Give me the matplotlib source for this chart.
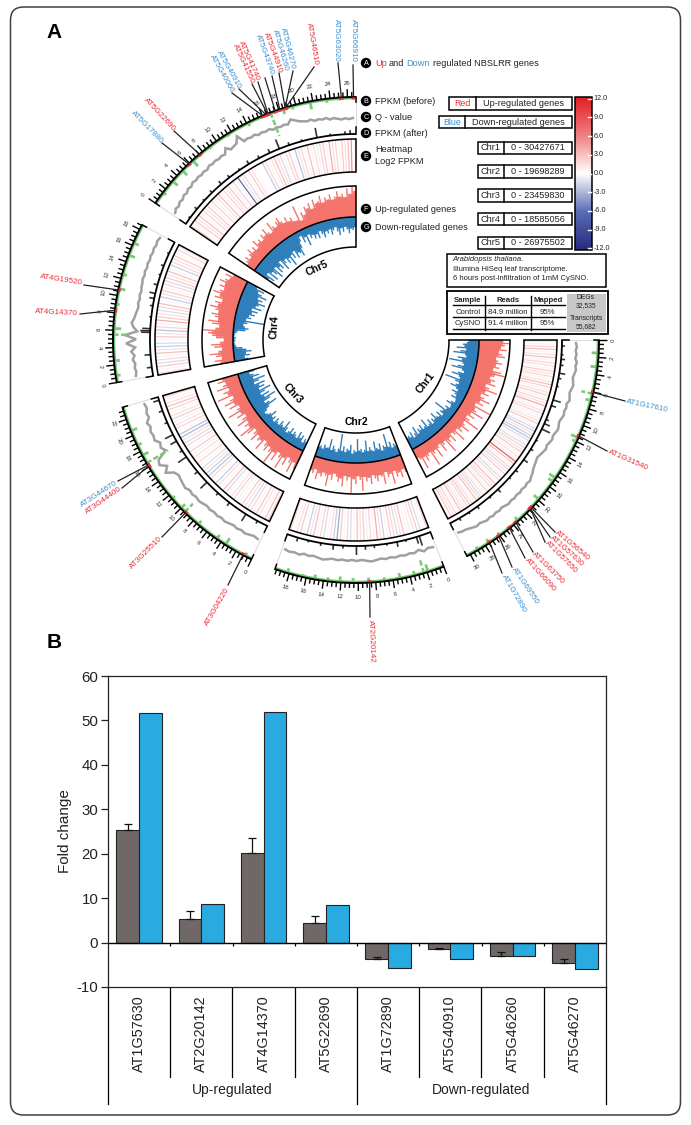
import numpy as np
import matplotlib
matplotlib.use("Agg")
import matplotlib.pyplot as plt
from matplotlib.collections import LineCollection, PolyCollection
from matplotlib.colors import LinearSegmentedColormap
from matplotlib.patches import FancyBboxPatch, Rectangle, Circle

plt.rcParams['font.family'] = ['Liberation Sans', 'DejaVu Sans']
plt.rcParams['axes.unicode_minus'] = False

# ---- panel A data ----
chr_names = ['Chr1', 'Chr2', 'Chr3', 'Chr4', 'Chr5']
chr_mb = [30.43, 19.70, 23.46, 18.59, 26.98]

# up / down regulated histograms, clockwise along each chromosome
up_chr1 = [24,30,26,22,28,20,24,27,18,21,25,19,23,17,26,30,20,16,22,18,24,14,19,28,16,21,13,18,25,15,20,12,30,14,17,26,13,19,11,16,28,12,15,22,13,17,11,24,14,10,19,12,16,26,11,14,20,10,13,22,12,15,27,11,14,18,12,24,13,10]
up_chr2 = [18,14,22,16,20,13,26,15,18,12,24,16,14,20,17,13,22,15,19,14,28,17,13,21,16,30,14,18,13,24,16,20,15,12,19,14,26,16,13,18,15,22,12,17,14]
up_chr3 = [20,14,26,17,12,22,15,28,18,13,24,16,30,19,14,21,17,12,25,15,18,13,22,16,11,20,27,14,18,12,23,16,10,19,13,26,15,11,21,14,24,17,12,28,16,20,13,25,18,14,22,16]
up_chr4 = [14,20,12,18,24,15,11,19,22,13,9,17,21,25,31,18,14,22,26,16,20,24,17,21,27,19,23,16,25,20,28,22,18,24,19,26,21,17,23,15]
up_chr5 = [9,12,15,10,14,18,12,16,11,20,14,17,13,19,15,22,16,13,24,18,15,20,23,17,14,19,13,16,11,10,25,8,16,12,20,17,22,15,24,19,21,26,18,23,20,25,19,22,27,21,24,20,29,23,31,26]
down_chr1 = [10,12,16,14,22,12,18,25,13,11,20,15,28,14,12,18,24,13,10,16,22,14,12,27,16,11,14,19,12,9,15,11,8,13,7,6,10,14,8,7,12,9,22,11,13,8,15,10,12,18,11,14,9,16,12,10,20,13,11,17,12,15,10,19,13,9,16,11,14,12]
down_chr2 = [10,13,9,16,11,25,12,14,9,17,11,13,20,10,12,15,11,22,13,10,14,12,24,11,13,9,18,12,14,10,16,11,28,13,9,12,15,10,21,12,11,14,9,12,10]
down_chr3 = [9,12,7,14,10,16,8,11,13,9,15,10,7,12,18,9,11,14,8,10,13,7,12,9,16,11,8,6,10,14,24,17,12,20,27,15,22,13,19,26,14,21,16,23,12,18,25,13,20,15,11,17]
down_chr4 = [14,10,16,12,18,13,9,3,2,1,2,3,1,2,4,12,15,11,9,13,30,11,16,13,19,15,21,14,24,17,20,26,18,22,16,25,19,14,20,11]
down_chr5 = [16,22,12,24,15,20,26,14,23,17,21,13,25,19,15,22,17,27,16,21,14,23,18,20,24,16,10,5,13,8,18,7,12,9,14,10,15,8,12,16,10,13,9,15,11,8,13,17,10,14,9,12,16,11,13,10]

# log2 FPKM heatmap stripes
heat_chr1 = [1.5,.5,2,3,.5,1.5,3,.5,2,1.5,.5,2.5,1.5,2,.5,1.5,3,2,.5,1.5,2.5,.5,2,1.5,4,.5,1.5,2,.5,-.5,1.5,2.5,.5,-1.5,-2,1.5,-2,-2.5,-1.5,.5,2,-1.5,1.5,2.5,.5,1.5,-.5,8,3,.5,2,-1.5,1.5,2.5,.5,-1.5,2,.5,3,1.5,2,-.5,2.5,.5,1.5,-1.5,2,3,.5,1.5,2.5,2,-.5,1.5,3,.5,2,1.5,2.5,.5]
heat_chr2 = [2,.5,-1.5,2.5,1.5,-.5,.5,3,1.5,-1.5,2,2.5,.5,-2,1.5,4,.5,2,-.5,2.5,1.5,3,.5,-1.5,2,.5,2.5,-3.5,-2,1.5,.5,-1.5,2,.5,3,1.5,-2,.5,2.5,1.5,.5,2]
heat_chr3 = [2,3,.5,1.5,2.5,.5,2,-1.5,1.5,2.5,.5,-.5,2,1.5,.5,-1.5,3,.5,1.5,-2,.5,2,-2.5,-2,1.5,-1.5,.5,2,.5,1.5,-.5,2.5,.5,2,-1.5,1.5,-3,-2.5,.5,2,1.5,-.5,2.5,1.5,.5,2,3,1.5,.5,2]
heat_chr4 = [1.5,.5,2.5,-1.5,2,.5,3,1.5,-2,-1.5,.5,2.5,1.5,-2.5,2,.5,4,2.5,1.5,-1.5,2,3,.5,-2,1.5,2.5,.5,2,-1.5,2.5,1.5,3,.5,-2,2,1.5,2.5,.5,2,1.5]
heat_chr5 = [2,.5,2.5,1.5,3,.5,2,1.5,2.5,.5,2,-.5,1.5,3,.5,2,1.5,2.5,-.5,2,.5,-6,1.5,-1.5,.5,2.5,1.5,.5,0,0,-2,2,.5,1.5,3,1.5,-1.5,.5,2,2.5,.5,-2.5,1.5,2,.5,3,.5,1.5,-.5,2,2.5,.5,4,1.5,2,.5,2.5,1.5,3,5,.5]

# Q-value trace, height above the track floor
qval_chr1 = [14,15,14,15,14,16,15,16,15,14,15,16,15,14,15,16,14,15,14,15,14,13,14,15,14,13,14,13,12,13,12,11,10,11,12,13,15,16,18,17,18,17,18,17,18,17,18,17,16,17,16,17,16,17,16,15,16,15,14,13,13,12]
qval_chr2 = [15,14,16,13,15,14,15,14,15,14,15,14,15,16,15,14,15,14,15,14,15,14,15,16,15,14,15,14,16,15,16,15]
qval_chr3 = [16,15,16,17,16,17,16,17,18,17,18,17,18,17,18,19,18,19,18,20,19,18,17,19,26,21,27,25,14,17,15,19,18,19,17,19,15,16,14,15]
qval_chr4 = [17,16,17,16,18,16,19,15,24,14,25,13,17,19,17,16,15,14,15,14,15,14,15,15,16,15,16,15,16,15,16,15,16,15,16,15]
qval_chr5 = [15,17,16,18,17,19,18,20,19,21,20,21,20,21,20,22,21,22,21,22,21,26,22,23,24,30,22,23,22,23,21,22,21,22,20,21,20,21,20,24,22,20,19,18,19,17,18,17,18,16,17,16,15,16,15,16]

# FPKM (after) spikes: Mb, height
after_mb = [[0.8,2.0,2.6,3.4,4.5,5.2,6.3,8.2,9.0,11.0,11.6,12.4,14.1,15.5,17.2,19.0,20.3,22.5,24.0,26.1,27.5,29.0],
            [1.6,2.0,3.5,4.7,6.1,7.8,9.0,10.2,12.0,13.3,15.0,16.7,18.2],
            [1.5,3.3,6.0,8.0,10.1,12.0,14.5,15.5,17.0,18.0,19.8,21.5,23.0],
            [1.2,2.9,5.9,6.1,6.4,8.0,9.5,10.5,11.2,12.4,13.8,15.1,16.9],
            [1.0,2.5,4.0,5.5,7.2,8.6,10.3,11.8,13.4,15.0,16.4,17.8,19.6,21.7,23.5,25.5,26.2]]
after_h = [[3,2,4,3,6,3,2,8,5,3,6,9,2,3,5,3,2,4,2,3,2,3],
           [10,7,2,5,2,3,4,9,3,5,3,2,4],
           [3,8,4,3,9,4,10,3,7,9,3,4,6],
           [5,6,9,10,8,2,3,5,6,4,2,3,2],
           [2,3,2,3,4,3,2,4,3,4,10,3,2,10,2,3,4]]

# FPKM (before) spikes: Mb, height
before_mb = [[1.5,3.1,6.2,7.0,11.5,12.0,16.8,17.3,19.9,23.3,26.0,27.5,29.0],
             [1.9,2.4,3.5,5.2,7.0,8.8,10.6,12.1,13.5,15.0,16.4,18.2],
             [0.8,3.4,4.6,7.3,9.4,10.0,11.5,16.5,17.5,18.8,20.6],
             [0.8,2.5,5.5,6.2,9.0,10.8,12.5,14.8,16.3],
             [1.5,3.2,4.85,6.5,9.0,11.5,14.2,17.0,18.5,19.6,21.7,23.6,25.0]]
before_h = [[7,7,12,6,8,5,8,6,7,5,4,5,4],
            [8,15,5,6,4,5,5,6,4,5,3,5],
            [4,8,5,5,12,6,4,25,7,5,7],
            [5,6,15,8,4,7,5,7,6],
            [4,7,7,8,3,3,4,25,6,4,8,4,3]]

# NBS-LRR genes
gene_names = ['AT5G66910','AT5G63020','AT5G46510','AT5G46270','AT5G46260','AT5G44910','AT5G43740',
              'AT5G41740','AT5G41550','AT5G40910','AT5G40060','AT5G22690','AT5G17880',
              'AT4G19520','AT4G14370',
              'AT1G17610','AT1G31540','AT1G56540','AT1G57630','AT1G57650','AT1G63750','AT1G66090','AT1G69550','AT1G72890',
              'AT2G20142','AT3G04220','AT3G25510','AT3G44670','AT3G44400']
gene_chr = [4]*13 + [3]*2 + [0]*9 + [1] + [2]*4
gene_pos = [26.7,25.3,18.86,18.77,18.76,18.12,17.57,16.69,16.62,16.4,16.03,7.55,5.9,
            10.64,8.28,6.05,11.3,21.18,21.34,21.35,23.64,24.6,26.15,27.42,8.7,1.1,9.26,16.2,16.07]
gene_up = [0,0,1,0,0,1,0,1,1,0,0,1,0, 1,1, 0,1,1,1,1,1,1,0,0, 1,1,1,0,1]

# ---- panel B data ----
qpcr_genes = ['AT1G57630','AT2G20142','AT4G14370','AT5G22690','AT1G72890','AT5G40910','AT5G46260','AT5G46270']
qpcr = [25.3, 5.4, 20.2, 4.3, -3.8, -1.4, -3.0, -4.7]
qpcr_err = [1.4, 1.6, 3.3, 1.7, 0.6, 0.2, 0.8, 0.9]
transcriptome = [51.7, 8.7, 52.0, 8.4, -5.7, -3.8, -3.0, -6.0]

# layout of the gene labels, pixels: leader end x, y, text x, y, rotation, ha
gene_layout = [(353,65,353,62,-90,'right'),(338,63,336,62,-90,'right'),(314,67,316,65,-80,'right'),(293,71,293,69,-76,'right'),
               (279,73,286,71,-74,'right'),(272,76,280,73,-70,'right'),(265,78,272,75,-70,'right'),(258,82,258,80,-66,'right'),
               (252,84,252,83,-65,'right'),(239,89,239,88,-60.5,'right'),(232,93,232,92,-60.5,'right'),(174,131,174,130,-47,'right'),
               (162,143,162,142,-45.5,'right'),(84,285,83,283,-9,'right'),(80,314,78,314,-3,'right'),
               (625,401,626,402,-12,'left'),(607,451,609,452,-23.6,'left'),(555,532,556,532,-40,'left'),(550,537,551,537,-42,'left'),
               (545,542,546,542,-45,'left'),(533,552,533,553,-45,'left'),(525,558,526,559,-48,'left'),(512,567,513,568,-56,'left'),
               (502,573,503,575,-60,'left'),(370,617,370,620,-88,'left'),(228,585,228,588,60,'right'),(162,537,161,538,45,'right'),
               (118,481,117,482,33,'right'),(122,488,121,488,35,'right')]

cx, cy = 356, 340
gap = 6.0
deg_per_mb = (270 - gap * 4) / sum(chr_mb)
chr_start = []
a = 0.0
for mb in chr_mb:
    chr_start.append(a)
    a += mb * deg_per_mb + gap

R_TICK, R_FLOOR = 243, 206
R_HEAT_OUT, R_HEAT_IN = 201, 168
R_UP, R_MID, R_DOWN = 154, 123, 93


def xy(r, deg):
    t = np.radians(deg)
    return cx + r * np.cos(t), cy + r * np.sin(t)


def mb_angle(c, mb):
    return chr_start[c] + mb * deg_per_mb


def arc(ax, r, d0, d1, **kw):
    t = np.linspace(d0, d1, 120)
    x, y = xy(r, t)
    ax.plot(x, y, solid_capstyle='butt', **kw)


def hist_track(ax, values, c, r0, sign, color):
    # solid body under the neighbouring bins, thin spikes for the peaks
    span = chr_mb[c] * deg_per_mb
    edges = chr_start[c] + np.linspace(0, span, len(values) + 1)
    n = len(values)
    quads = []
    spikes = []
    for i, v in enumerate(values):
        body = min(v, values[max(i - 1, 0)], values[min(i + 1, n - 1)])
        r1 = r0 + sign * body
        quads.append([xy(r0, edges[i]), xy(r1, edges[i]), xy(r1, edges[i + 1]), xy(r0, edges[i + 1])])
        mid = 0.5 * (edges[i] + edges[i + 1])
        spikes.append([xy(r0, mid), xy(r0 + sign * v, mid)])
    ax.add_collection(PolyCollection(quads, facecolors=color, edgecolors=color, linewidths=0.4, zorder=2))
    ax.add_collection(LineCollection(spikes, colors=color, linewidths=1.0, zorder=2))


fig = plt.figure(figsize=(6.91, 11.25), dpi=100)
ax = fig.add_axes([0, 0, 1, 1])
ax.set_xlim(0, 691)
ax.set_ylim(1125, 0)
ax.axis('off')

ax.add_patch(FancyBboxPatch((10.5, 7), 670, 1108, boxstyle='round,pad=0,rounding_size=13',
                            fc='none', ec='#404040', lw=1.1))
ax.text(46.5, 32.5, 'A', fontsize=15, fontweight='bold', va='center')
ax.text(46.5, 643, 'B', fontsize=15, fontweight='bold', va='center')

heat_cmap = LinearSegmentedColormap.from_list('heat', [(0, '#262B7F'), (0.25, '#5A6DB5'), (0.5, '#FFFFFF'),
                                                        (0.75, '#F08080'), (1, '#E31E24')])
up_lists = [up_chr1, up_chr2, up_chr3, up_chr4, up_chr5]
down_lists = [down_chr1, down_chr2, down_chr3, down_chr4, down_chr5]
heat_lists = [heat_chr1, heat_chr2, heat_chr3, heat_chr4, heat_chr5]
qval_lists = [qval_chr1, qval_chr2, qval_chr3, qval_chr4, qval_chr5]

for c in range(5):
    d0 = chr_start[c]
    d1 = d0 + chr_mb[c] * deg_per_mb

    # up / down histogram
    hist_track(ax, up_lists[c], c, R_MID, 1, '#F4736B')
    hist_track(ax, down_lists[c], c, R_MID, -1, '#2E7EBB')
    for r in (R_UP, R_MID, R_DOWN):
        arc(ax, r, d0, d1, color='k', lw=1.1, zorder=3)
    for d in (d0, d1):
        x, y = xy(np.array([R_DOWN, R_UP]), d)
        ax.plot(x, y, color='k', lw=1.1, zorder=3)

    # heatmap
    vals = heat_lists[c]
    seg = []
    cols = []
    for i, v in enumerate(vals):
        d = d0 + (i + 0.5) * (d1 - d0) / len(vals)
        seg.append([xy(R_HEAT_IN, d), xy(R_HEAT_OUT, d)])
        cols.append(heat_cmap((v + 12) / 24))
    ax.add_collection(LineCollection(seg, colors=cols, linewidths=0.9, zorder=2))
    for r in (R_HEAT_OUT, R_HEAT_IN):
        arc(ax, r, d0, d1, color='k', lw=1.1, zorder=3)
    for d in (d0, d1):
        x, y = xy(np.array([R_HEAT_IN, R_HEAT_OUT]), d)
        ax.plot(x, y, color='k', lw=1.1, zorder=3)

    # outer track: sides, floor, ring
    for d in (d0, d1):
        x, y = xy(np.array([R_FLOOR, R_TICK]), d)
        ax.plot(x, y, color='#dddddd', lw=0.8, zorder=1)
        x, y = xy(np.array([R_FLOOR, R_FLOOR + 7]), d)
        ax.plot(x, y, color='k', lw=1.1, zorder=3)
        x, y = xy(np.array([R_TICK - 5, R_TICK]), d)
        ax.plot(x, y, color='k', lw=1.1, zorder=3)
    arc(ax, R_FLOOR, d0, d1, color='k', lw=1.3, zorder=3)
    arc(ax, R_TICK - 1.5, d0, d1, color='#6CC66A', lw=1.2, zorder=2)
    arc(ax, R_TICK, d0, d1, color='k', lw=1.4, zorder=3)

    # Q-value trace
    q = np.array(qval_lists[c], dtype=float)
    d = np.linspace(d0 + 0.8, d1 - 0.8, len(q))
    x, y = xy(R_FLOOR + q, d)
    ax.plot(x, y, color='#A0A0A0', lw=1.8, zorder=2, solid_joinstyle='miter')

    # FPKM spikes
    seg = []
    for mb, h in zip(after_mb[c], after_h[c]):
        d = mb_angle(c, mb)
        seg.append([xy(R_FLOOR, d), xy(R_FLOOR + h, d)])
    ax.add_collection(LineCollection(seg, colors='#333333', linewidths=1.2, zorder=2))
    for mb, h in zip(before_mb[c], before_h[c]):
        d = mb_angle(c, mb)
        xa, ya = xy(R_TICK, d)
        xb, yb = xy(R_TICK - h, d)
        if h >= 12:
            ax.plot([xa, xb], [ya, yb], color='#7AC974', lw=1.8, dashes=(2.2, 1.0), zorder=2)
        else:
            ax.plot([xa, xb], [ya, yb], color='#7AC974', lw=2.0, solid_capstyle='butt', zorder=2)

    # scale ticks
    seg = []
    for m in np.arange(0, chr_mb[c] + 0.01, 0.5):
        d = mb_angle(c, m)
        major = abs(m / 2 - round(m / 2)) < 1e-6
        seg.append([xy(R_TICK, d), xy(R_TICK + (8 if major else 5), d)])
        if major:
            tx, ty = xy(R_TICK + 14, d)
            rot = 90 - d if d < 180 else 270 - d
            ax.text(tx, ty, '%d' % m, fontsize=4.4, color='#333333', rotation=rot,
                    ha='center', va='center', rotation_mode='anchor')
    ax.add_collection(LineCollection(seg, colors='k', linewidths=1.0, zorder=3))

# chromosome names
name_pos = [(426, 383, 52), (356.7, 422, 0), (292.7, 394, -47), (274, 327, 86), (317, 268, 25)]
for name, (x, y, rot) in zip(chr_names, name_pos):
    ax.text(x, y, name, fontsize=7.5, fontweight='bold', rotation=rot, ha='center', va='center',
            rotation_mode='anchor')

# gene labels and leaders
for i, name in enumerate(gene_names):
    col = '#EE2A35' if gene_up[i] else '#3A8FD0'
    d = mb_angle(gene_chr[i], gene_pos[i])
    lx, ly, tx, ty, rot, ha = gene_layout[i]
    sx, sy = xy(R_TICK, d)
    ax.plot([sx, lx], [sy, ly], color='#222222', lw=0.9, zorder=4)
    x0, y0 = xy(R_TICK - 1.5, d - 0.25)
    x1, y1 = xy(R_TICK - 1.5, d + 0.25)
    ax.plot([x0, x1], [y0, y1], color='#EE2A35', lw=1.4, zorder=5)
    ax.text(tx, ty, name, fontsize=5.8, color=col, rotation=rot, ha=ha, va='center', rotation_mode='anchor')

# track legend
legend_marks = [('A', 366, 63), ('B', 366, 101), ('C', 366, 117), ('D', 366, 133),
                ('E', 366, 156), ('F', 366, 209), ('G', 366, 227)]
for letter, x, y in legend_marks:
    ax.add_patch(Circle((x, y), 5.2, fc='k', ec='none', zorder=5))
    ax.text(x, y + 0.2, letter, color='w', fontsize=5.2, ha='center', va='center', zorder=6)
ax.text(375, 63, 'Up', color='#EE2A35', fontsize=6.6, va='center')
ax.text(389, 63, 'and', color='#222222', fontsize=6.6, va='center')
ax.text(406.7, 63, 'Down', color='#3A8FD0', fontsize=6.6, va='center')
ax.text(432.7, 63, 'regulated NBSLRR genes', color='#222222', fontsize=6.6, va='center')
for txt, y in [('FPKM (before)', 101), ('Q - value', 117), ('FPKM (after)', 133), ('Heatmap', 150),
               ('Log2 FPKM', 162), ('Up-regulated genes', 209), ('Down-regulated genes', 227)]:
    ax.text(375, y, txt, color='#222222', fontsize=6.6, va='center')

# colour boxes
for x0, xdiv, y0, y1, left, right, col in [(449.3, 475.7, 97.3, 110, 'Red', 'Up-regulated genes', '#EE2A35'),
                                           (438.7, 465, 116, 128.3, 'Blue', 'Down-regulated genes', '#3A8FD0')]:
    ax.add_patch(Rectangle((x0, y0), 571.7 - x0, y1 - y0, fc='w', ec='k', lw=1.1))
    ax.plot([xdiv, xdiv], [y0, y1], color='k', lw=1.1)
    ax.text((x0 + xdiv) / 2, (y0 + y1) / 2, left, color=col, fontsize=6.4, ha='center', va='center')
    ax.text((xdiv + 571.7) / 2, (y0 + y1) / 2, right, color='#222222', fontsize=6.6, ha='center', va='center')

chr_ranges = ['0 - 30427671', '0 - 19698289', '0 - 23459830', '0 - 18585056', '0 - 26975502']
chr_box_y = [141.7, 165.3, 189.3, 213, 236.7]
for name, txt, y0 in zip(chr_names, chr_ranges, chr_box_y):
    ax.add_patch(Rectangle((477.7, y0), 94, 12.3, fc='w', ec='k', lw=1.1))
    ax.plot([504, 504], [y0, y0 + 12.3], color='k', lw=1.1)
    ax.text(490.8, y0 + 6.2, name, fontsize=6.6, color='#222222', ha='center', va='center')
    ax.text(538, y0 + 6.2, txt, fontsize=6.6, color='#222222', ha='center', va='center')

# colour bar
grad = np.linspace(1, 0, 256).reshape(-1, 1)
ax.imshow(grad, cmap=heat_cmap, extent=(575, 591.7, 250, 97.3), aspect='auto', zorder=2)
ax.set_xlim(0, 691)
ax.set_ylim(1125, 0)
ax.add_patch(Rectangle((575, 97.3), 16.7, 152.7, fc='none', ec='k', lw=1.1, zorder=3))
bar_vals = [12, 9, 6, 3, 0, -3, -6, -9, -12]
bar_ticks = ['12.0', '9.0', '6.0', '3.0', '0.0', '-3.0', '-6.0', '-9.0', '-12.0']
for v, lab in zip(bar_vals, bar_ticks):
    y = 173.5 - v * 6.23
    ax.plot([588, 591], [y, y], color='w', lw=1.0, zorder=3)
    ax.text(593.5, y, lab, fontsize=5.2, color='#222222', va='center')

# info box
ax.add_patch(Rectangle((447.3, 254), 158.7, 32.7, fc='w', ec='k', lw=1.1))
ax.text(452.7, 259.5, 'Arabidopsis thaliana.', style='italic', fontsize=5.5, color='#222222', va='center')
ax.text(452.7, 269.3, 'Illumina HiSeq leaf transcriptome.', fontsize=5.5, color='#222222', va='center')
ax.text(452.7, 279, '6 hours post-infiltration of 1mM CySNO.', fontsize=5.5, color='#222222', va='center')

# reads table
ax.add_patch(Rectangle((447.3, 290.7), 160.4, 43.6, fc='w', ec='k', lw=1.3))
ax.add_patch(Rectangle((566.7, 294), 39, 37.7, fc='#C8C8C8', ec='none'))
for y in (305, 317.3, 329.3):
    ax.plot([452.7, 565], [y, y], color='k', lw=1.0)
for x in (485, 530.7):
    ax.plot([x, x], [296, 330], color='k', lw=1.0)
table_rows = [('Sample', 'Reads', 'Mapped'), ('Control', '84.9 million', '95%'), ('CySNO', '91.4 million', '95%')]
for row, y in zip(table_rows, (300, 312, 323.7)):
    for cell, x in zip(row, (468, 508, 547.7)):
        ax.text(x, y, cell, fontsize=5.6, color='#222222', ha='center', va='center',
                fontweight='bold' if y == 300 else 'normal')
for txt, y in [('DEGs', 297.7), ('32,535', 306), ('Transcripts', 318), ('55,682', 327)]:
    ax.text(586, y, txt, fontsize=4.9, color='#222222', ha='center', va='center')

# ---- panel B ----
B_LEFT, B_RIGHT = 108, 606
B_TOP, B_BOTTOM = 676, 987
axb = fig.add_axes([B_LEFT / 691, 1 - B_BOTTOM / 1125, (B_RIGHT - B_LEFT) / 691, (B_BOTTOM - B_TOP) / 1125])
pos = np.arange(len(qpcr_genes))
w = 0.365
axb.bar(pos - w / 2, qpcr, w, color='#6F6866', edgecolor='#222222', linewidth=0.8)
axb.bar(pos + w / 2, transcriptome, w, color='#29ABE2', edgecolor='#222222', linewidth=0.8)
axb.errorbar(pos - w / 2, qpcr, yerr=[np.zeros(len(qpcr)), qpcr_err], fmt='none', ecolor='#111111',
             elinewidth=0.9, capsize=2.6, capthick=0.9)
axb.axhline(0, color='k', lw=1.0)
axb.vlines(np.arange(1, 8) - 0.5, -0.8, 0, color='k', lw=0.9)
axb.set_xlim(-0.5, 7.5)
axb.set_ylim(-10, 60)
axb.set_xticks([])
axb.set_yticks(np.arange(-10, 61, 10))
axb.tick_params(axis='y', labelsize=10.8, length=5, width=0.9, pad=2, colors='#222222')
axb.set_ylabel('Fold change', fontsize=11, color='#222222', labelpad=3)
for s in axb.spines.values():
    s.set_linewidth(0.9)
    s.set_color('#222222')

cat_w = (B_RIGHT - B_LEFT) / 8
for i, g in enumerate(qpcr_genes):
    ax.text(B_LEFT + (i + 0.5) * cat_w, 995, g, rotation=90, fontsize=10.4, color='#222222', ha='center', va='top')
for i in range(9):
    ybot = 1104 if i in (0, 4, 8) else 1077
    x = B_LEFT + i * cat_w
    ax.plot([x, x], [B_BOTTOM, ybot], color='k', lw=0.9)
ax.text(B_LEFT + 2 * cat_w, 1090, 'Up-regulated', fontsize=10, color='#222222', ha='center', va='center')
ax.text(B_LEFT + 6 * cat_w, 1090, 'Down-regulated', fontsize=10, color='#222222', ha='center', va='center')

ax.add_patch(Rectangle((360, 690), 9, 10, fc='#6F6866', ec='#222222', lw=0.8))
ax.text(372, 695, 'q-RT PCR', fontsize=11.2, color='#222222', va='center')
ax.add_patch(Rectangle((470, 690), 9, 10, fc='#29ABE2', ec='#222222', lw=0.8))
ax.text(482, 695, 'Transcriptome', fontsize=11.4, color='#222222', va='center')
ax.text(473.5, 722.7, 'y = 2.13x + 1.4749', fontsize=10.6, color='#222222', ha='center', va='center')
ax.text(473.5, 742, 'R² = 0.9739', fontsize=10.6, color='#222222', ha='center', va='center')

fig.savefig('out.png', dpi=100)
